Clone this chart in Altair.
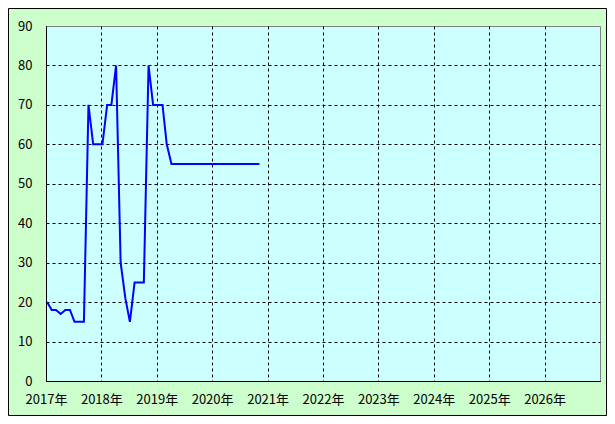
import altair as alt
import pandas as pd

# monthly values starting 2017-01
values = [20, 18, 18, 17, 18, 18, 15, 15, 15, 70,
          60, 60, 60, 70, 70, 80, 30, 21, 15, 25,
          25, 25, 80, 70, 70, 70, 60, 55, 55, 55,
          55, 55, 55, 55, 55, 55, 55, 55, 55, 55,
          55, 55, 55, 55, 55, 55, 55]
dates = [d.strftime("%Y-%m-08T00:00:00") for d in
         pd.date_range("2017-01-01", periods=len(values), freq="MS")]
years = list(range(2017, 2027))
y_ticks = list(range(0, 100, 10))

df = pd.DataFrame({"date": dates, "value": values})

W, H = 554, 355
PL, PT, PR, PB = 38, 18, 7, 35

x_enc = alt.X(
    "date:T",
    scale=alt.Scale(domain=[alt.DateTime(year=2017, month=1, date=1),
                            alt.DateTime(year=2027, month=1, date=1)]),
    axis=alt.Axis(
        values=[alt.DateTime(year=y, month=1, date=1) for y in years],
        format="%Y年", title=None, ticks=False, labelPadding=12,
        labelFont="Noto Sans CJK JP", labelFontSize=13, labelColor="black",
        labelFlush=False, labelOverlap=False,
        domainColor="black", domainWidth=1,
        grid=True, gridColor="black", gridDash=[3, 3], gridWidth=1,
    ),
)
y_enc = alt.Y(
    "value:Q",
    scale=alt.Scale(domain=[0, 90], nice=False),
    axis=alt.Axis(
        values=y_ticks, title=None, ticks=False, labelPadding=14,
        labelFont="Noto Sans CJK JP", labelFontSize=13, labelColor="black",
        domainColor="black", domainWidth=1,
        grid=True, gridColor="black", gridDash=[3, 3], gridWidth=1,
        gridOpacity=alt.condition("datum.value >= 90", alt.value(0), alt.value(1)),
    ),
)

line = alt.Chart(df).mark_line(color="#0000ff", strokeWidth=2, clip=True).encode(
    x=x_enc, y=y_enc
)

frame = alt.Chart(pd.DataFrame({"a": [0]})).mark_rect(
    fill=None, stroke="black", strokeWidth=1, clip=False
).encode(
    x=alt.value(-PL + 0.5), x2=alt.value(W + PR - 0.5),
    y=alt.value(-PT + 0.5), y2=alt.value(H + PB - 0.5),
)

chart = alt.layer(line, frame).properties(
    width=W, height=H,
    background="#ccffcc",
    padding={"left": PL, "top": PT, "right": PR, "bottom": PB},
    autosize=alt.AutoSizeParams(type="none"),
).configure_view(
    fill="#ccffff", stroke="#808080", strokeWidth=1
)

chart.save("out.html", embed_options={"renderer": "svg", "actions": False})
